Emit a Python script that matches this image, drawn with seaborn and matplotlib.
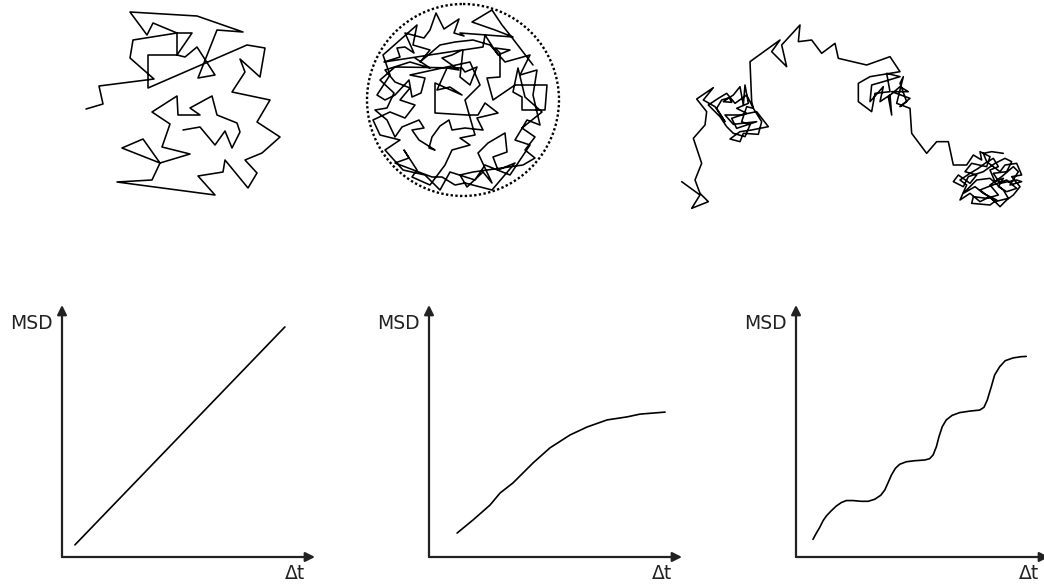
import matplotlib
matplotlib.use("Agg")
import matplotlib.pyplot as plt
from matplotlib.patches import Circle
import seaborn as sns

# ---------------------------------------------------------------------------
# Trajectories (vertex coordinates, y grows downward)
# ---------------------------------------------------------------------------
# free diffusion
walk1_x = [103, 120, 135, 145, 152, 160, 157, 137, 132, 110, 120, 98, 97, 72, 90, 82,
           110, 80, 42, 63, 80, 72, 37, 135, 118, 143, 145, 168, 177, 165, 182, 200,
           177, 190, 152, 165, 160, 180, 185, 167, 68, 68, 97, 105, 117, 135, 118, 137,
           163, 117, 50, 67, 73, 97, 112, 97, 97, 53, 50, 74, 19, 23, 6]
walk1_y = [130, 127, 145, 131, 148, 132, 123, 115, 96, 108, 115, 115, 96, 112, 124, 147,
           154, 163, 148, 139, 163, 180, 182, 195, 176, 172, 160, 188, 173, 160, 153, 137,
           122, 100, 92, 72, 59, 77, 48, 45, 88, 55, 55, 57, 47, 75, 78, 30,
           32, 16, 12, 35, 23, 33, 33, 55, 33, 40, 58, 79, 86, 104, 109]

# confined diffusion
walk2_x = [178, 155, 147, 137, 117, 140, 158, 105, 109, 99, 104, 95, 89, 81, 75, 69,
           50, 59, 50, 42, 45, 29, 107, 97, 87, 104, 92, 82, 95, 107, 80, 80,
           112, 123, 130, 143, 122, 128, 110, 97, 94, 85, 77, 74, 80, 64, 57, 69,
           64, 47, 40, 32, 20, 32, 39, 25, 40, 107, 110, 122, 115, 105, 108, 128,
           130, 143, 155, 140, 145, 145, 132, 138, 160, 192, 190, 167, 167, 158, 163, 170,
           187, 167, 180, 170, 180, 168, 118, 105, 112, 128, 137, 123, 133, 150, 152, 138,
           143, 160, 137, 110, 100, 87, 77, 40, 54, 49, 62, 57, 75, 90, 97, 115,
           105, 120, 110, 125, 115, 55, 70, 66, 57, 54, 40, 30, 22,
           35, 28, 45, 62, 58, 75, 65, 85, 100, 118, 135, 150, 175, 165, 182, 178,
           185, 172, 160, 175, 155, 130, 120, 95, 85, 70, 48, 30, 45, 25, 18, 35,
           50, 60, 45, 55, 40, 30, 55, 75, 60]
walk2_y = [65, 35, 25, 10, 22, 30, 37, 33, 36, 33, 19, 25, 29, 13, 30, 38,
           33, 53, 47, 48, 57, 62, 50, 55, 58, 70, 68, 90, 87, 95, 83, 113,
           115, 115, 103, 113, 118, 130, 128, 130, 120, 126, 137, 148, 150, 140, 130, 128,
           120, 127, 137, 120, 110, 108, 93, 80, 67, 68, 72, 67, 85, 77, 50, 47,
           35, 55, 50, 48, 53, 77, 78, 100, 85, 85, 110, 110, 97, 92, 68, 97,
           112, 128, 137, 150, 158, 165, 172, 175, 187, 172, 183, 153, 143, 133, 152, 157,
           170, 163, 190, 183, 185, 177, 177, 163, 158, 150, 170, 177, 185, 165, 150, 145,
           138, 135, 100, 85, 62, 75, 78, 93, 97, 80, 95, 100, 95,
           75, 55, 40, 25, 45, 50, 62, 45, 42, 40, 45, 62, 55, 75, 70, 95,
           125, 120, 140, 145, 175, 165, 180, 172, 190, 175, 170, 150, 140, 135, 120, 112,
           118, 105, 100, 88, 82, 70, 62, 68, 58]
circle_center = (108, 100)
circle_radius = 96

# diffusion with transient trapping (three confinement zones)
walk3_x = [35, 90, 65, 115, 90, 75, 95, 70, 105,
           110, 80, 130, 100, 135, 165, 140, 155, 178, 185, 160, 190, 210, 220, 225, 235,
           200, 230, 185, 200, 260, 190, 165, 210, 260, 295, 245, 210, 180, 210, 220, 265,
           275, 250, 230, 215, 240, 225, 190, 170, 150, 130, 115, 145, 170, 195, 230, 250,
           245,
           240, 330, 305, 350, 335, 390, 385, 425, 455, 495, 505, 590, 660, 690,
           600, 565, 565, 605, 615, 660, 650, 690, 640, 605, 600, 640, 630, 660, 665, 655,
           690, 715, 665, 720, 690, 710, 690, 700, 680, 720,
           725, 770, 800, 835, 850,
           890, 910, 935, 930, 960, 950, 905, 885, 920, 900, 865, 850, 880, 895, 940, 975,
           1005, 1025, 1010, 970, 990, 1040, 1055, 1020, 1045, 1030, 995, 960, 985, 950, 910,
           905, 960, 980, 940, 915, 880, 920, 960, 1000, 1015, 975, 930, 955, 1010, 1040,
           1010, 985, 1000, 975, 960, 985, 970, 945, 925, 900, 870, 890, 870, 900, 930,
           960, 990, 1010, 1030, 1050, 1025, 1055, 1040, 1005, 990, 950, 940, 965, 1000]
walk3_y = [515, 555, 595, 575, 550, 510, 460, 385, 345,
           305, 267, 233, 270, 290, 335, 295, 270, 263, 277, 275, 255, 230, 285, 225, 280,
           295, 310, 325, 355, 335, 343, 315, 315, 305, 350, 360, 365, 387, 395, 370, 373,
           335, 295, 290, 335, 345, 380, 370, 350, 320, 300, 285, 265, 250, 280, 255, 295,
           275,
           155, 90, 125, 170, 105, 45, 95, 90, 130, 100, 145, 165, 140, 185,
           200, 220, 275, 305, 250, 245, 190, 200, 215, 225, 275, 230, 275, 255, 315, 260,
           230, 245, 245, 265, 290, 275, 220, 200, 280, 295,
           370, 430, 395, 395, 465,
           465, 435, 450, 425, 440, 470, 460, 485, 495, 520, 495, 515, 530, 500, 485, 460,
           445, 455, 485, 490, 520, 510, 515, 525, 485, 470, 500, 525, 555, 565, 560,
           580, 585, 570, 550, 530, 550, 510, 505, 540, 565, 575, 540, 530, 510, 535,
           545, 530, 505, 515, 480, 470, 445, 460, 475, 490, 510, 525, 570, 550, 575,
           560, 590, 570, 555, 530, 500, 495, 460, 465, 485, 455, 430, 425, 430]

# ---------------------------------------------------------------------------
# MSD curves (arbitrary units, 0-100 on each axis)
# ---------------------------------------------------------------------------
msd1_t = [5.1, 88.1]
msd1_v = [4.8, 91.3]

msd2_t = [11.1, 17.4, 24.1, 28.1, 33.2, 41.1, 47.8, 55.7, 62.5, 70.4, 78.3, 83.4, 93.3]
msd2_v = [9.5, 14.7, 20.6, 25.4, 29.4, 37.3, 43.3, 48.4, 51.6, 54.4, 55.6, 56.7, 57.5]

msd3_t = [6.7, 8.0, 9.4, 10.7, 12.0, 14.0, 15.9, 17.9, 19.9, 22.5, 25.8, 28.5, 31.1,
          33.5, 35.1, 36.4, 37.7, 39.3, 41.0, 43.6, 46.9, 50.9, 52.8, 54.2, 55.5, 56.5,
          57.8, 59.4, 61.7, 64.7, 68.7, 72.6, 74.3, 75.6, 77.2, 78.5, 80.5, 82.7, 85.8,
          89.1, 91.0]
msd3_v = [7.0, 9.4, 11.8, 14.4, 16.3, 18.4, 20.2, 21.6, 22.4, 22.4, 22.1, 22.1, 22.9,
          24.5, 26.6, 29.5, 32.5, 35.2, 36.8, 37.8, 38.2, 38.5, 39.0, 40.5, 43.8, 47.7,
          51.7, 54.4, 56.2, 57.3, 57.9, 58.3, 59.4, 62.3, 67.6, 72.2, 75.5, 77.9, 79.0,
          79.5, 79.6]

y_label = "MSD"
x_label = "Δt"

# ---------------------------------------------------------------------------
sns.set_theme(style="white")
plt.rcParams["font.family"] = ["DejaVu Sans"]

W, H = 1044, 584
fig = plt.figure(figsize=(W / 100, H / 100), dpi=100)
fig.patch.set_facecolor("white")


def px_axes(left, top, width, height):
    """Add an axes placed by its pixel box (origin at the top-left corner)."""
    return fig.add_axes([left / W, 1 - (top + height) / H, width / W, height / H])


def draw_walk(box, xs, ys, scale):
    ax = px_axes(*box)
    sns.lineplot(x=xs, y=ys, sort=False, estimator=None, color="black",
                 lw=1.15, ax=ax)
    ax.set_xlim(0, box[2] * scale)
    ax.set_ylim(box[3] * scale, 0)
    ax.axis("off")
    return ax


draw_walk((80, 0, 210, 200), walk1_x, walk1_y, 1)
ax_c = draw_walk((355, 0, 215, 200), walk2_x, walk2_y, 1)
ax_c.add_patch(Circle(circle_center, circle_radius, fill=False, color="black",
                      lw=1.7, ls=(0, (1, 1))))
draw_walk((670, 10, 360, 210), walk3_x, walk3_y, 3)

# MSD panels with arrow-headed axes
arrow_kw = dict(arrowstyle="-|>", color="#222222", lw=1.6, mutation_scale=14,
                shrinkA=0, shrinkB=0)
curves = [(msd1_t, msd1_v), (msd2_t, msd2_v), (msd3_t, msd3_v)]
for i, (ts, vs) in enumerate(curves):
    ax = px_axes(62 + 367 * i, 305, 253, 252)
    sns.lineplot(x=ts, y=vs, color="black", lw=1.2, ax=ax)
    ax.set_xlim(0, 100)
    ax.set_ylim(0, 100)
    ax.axis("off")
    ax.annotate("", xy=(1, 0), xytext=(0, 0), xycoords="axes fraction",
                textcoords="axes fraction", arrowprops=arrow_kw)
    ax.annotate("", xy=(0, 1), xytext=(0, 0), xycoords="axes fraction",
                textcoords="axes fraction", arrowprops=arrow_kw)
    ax.annotate(y_label, xy=(0, 1), xycoords="axes fraction", xytext=(-7, -13),
                textcoords="offset points", ha="right", va="center",
                fontsize=13.5, color="#222222")
    ax.annotate(x_label, xy=(1, 0), xycoords="axes fraction", xytext=(-7, -5),
                textcoords="offset points", ha="right", va="top",
                fontsize=13.5, color="#222222")

fig.savefig("out.png", dpi=100, facecolor="white")
